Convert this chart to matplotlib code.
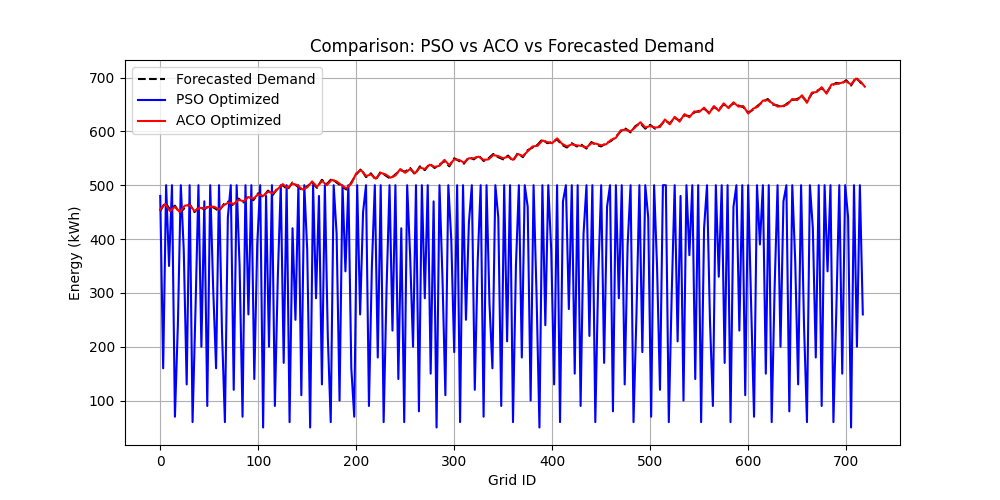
import numpy as np
import matplotlib.pyplot as plt

# forecasted demand, read every 5 grid IDs (last point at 719)
demand = [452,468,455,462,448,458,465,450,460,455,
          462,458,452,465,470,462,475,468,480,472,
          485,478,490,482,495,500,492,505,498,490,
          498,505,495,510,502,512,505,498,492,505,
          520,530,515,522,510,525,518,512,520,528,
          525,532,520,535,528,540,532,538,545,535,
          550,545,540,552,548,555,545,550,558,552,
          548,555,545,560,552,565,570,575,585,578,
          580,585,575,570,578,572,575,568,580,575,
          572,578,582,590,600,605,598,610,615,605,
          612,605,610,620,615,625,620,630,628,635,
          638,642,635,645,640,650,645,652,648,645,
          635,640,648,655,660,650,648,645,652,658,
          660,665,655,670,675,680,672,685,690,688,
          695,685,700,690,685]
demand_x = list(range(0, 720, 5)) + [719]

# ACO follows the demand almost exactly
aco = [455,465,452,460,450,462,463,452,458,457,
       460,460,455,463,468,465,473,470,478,475,
       483,480,488,485,493,502,495,503,500,492,
       496,507,497,508,500,510,507,500,494,503,
       522,528,517,520,512,523,520,514,518,530,
       523,530,522,533,530,538,534,536,547,537,
       548,547,542,550,550,553,547,548,556,554,
       550,553,547,558,554,563,572,573,583,580,
       578,587,577,572,576,574,573,570,578,577,
       574,576,584,588,602,603,600,608,617,607,
       610,607,608,622,613,627,618,632,626,637,
       636,644,633,647,638,652,643,654,646,647,
       633,642,646,657,658,652,646,647,650,660,
       658,667,653,672,673,682,670,687,688,690,
       693,687,698,692,683]

# PSO optimized, read every 3 grid IDs
pso = [480,160,500,350,500,70,240,500,380,130,500,60,270,500,200,470,90,500,310,160,
       500,230,60,440,500,120,500,350,70,500,260,500,140,390,500,50,480,200,500,90,
       330,500,170,500,60,420,250,500,110,500,380,50,500,290,480,130,500,220,60,500,
       410,100,500,340,500,160,70,500,260,450,500,90,350,500,180,500,60,310,500,230,
       500,140,420,60,500,370,200,500,80,500,290,500,150,470,50,500,330,110,500,400,
       190,500,60,500,250,430,500,120,360,500,70,500,280,160,500,440,90,500,210,500,
       60,350,500,180,500,460,100,500,300,50,500,240,500,380,130,500,60,470,500,270,
       500,150,500,90,410,500,220,500,60,330,500,170,460,500,80,500,290,500,130,390,
       500,60,260,500,190,500,440,70,500,350,120,500,500,60,300,500,210,480,100,500,
       370,500,140,500,60,420,500,250,90,500,330,500,170,500,60,460,500,230,500,110,
       500,280,70,500,390,500,150,500,60,310,500,200,470,500,80,500,360,130,500,240,
       60,500,420,180,500,90,500,340,500,60,270,500,150,500,440,50,500,200,500,260]
pso_x = list(range(0, 720, 3))

fig, ax = plt.subplots(figsize=(10, 5), dpi=100)
ax.plot(demand_x, demand, 'k--', label='Forecasted Demand')
ax.plot(pso_x, pso, color='blue', label='PSO Optimized')
ax.plot(demand_x, aco, color='red', label='ACO Optimized')
ax.set_title('Comparison: PSO vs ACO vs Forecasted Demand')
ax.set_xlabel('Grid ID')
ax.set_ylabel('Energy (kWh)')
ax.legend(loc='upper left')
ax.grid(True)
plt.savefig('out.png')
